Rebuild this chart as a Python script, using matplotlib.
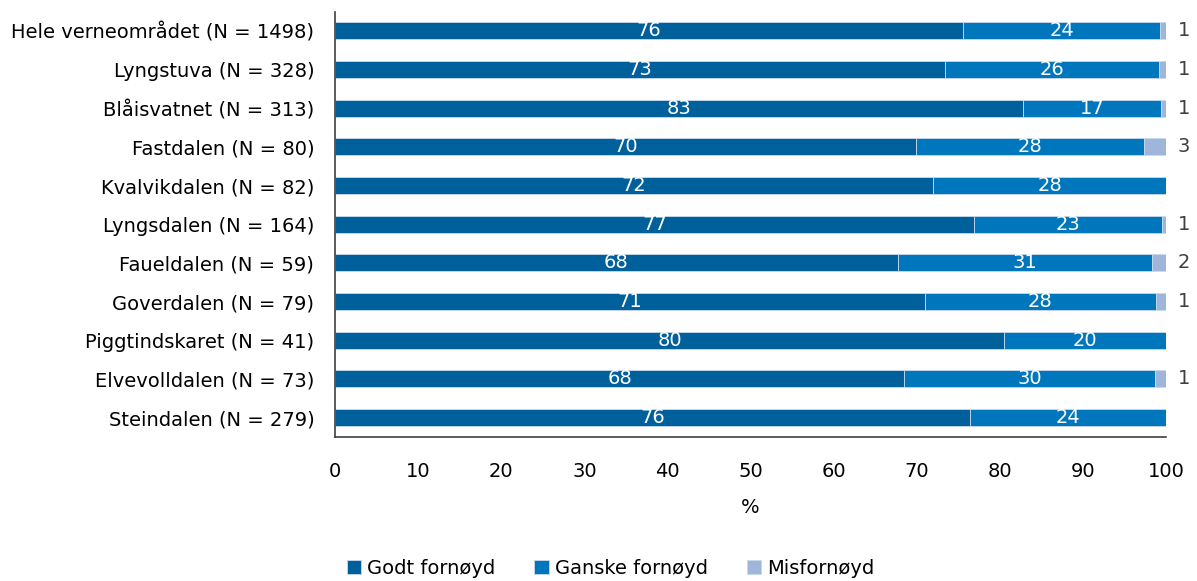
import matplotlib as mpl
import matplotlib.pyplot as plt
import numpy as np

params = {'font.family': ['DejaVu Sans'],
          'font.size': 14}
mpl.rcParams.update(params)

areas = ['Hele verneområdet (N = 1498)', 'Lyngstuva (N = 328)', 'Blåisvatnet (N = 313)',
         'Fastdalen (N = 80)', 'Kvalvikdalen (N = 82)', 'Lyngsdalen (N = 164)',
         'Faueldalen (N = 59)', 'Goverdalen (N = 79)', 'Piggtindskaret (N = 41)',
         'Elvevolldalen (N = 73)', 'Steindalen (N = 279)']
godt = [75.6, 73.4, 82.8, 69.9, 72.0, 76.9, 67.7, 71.0, 80.5, 68.5, 76.4]
ganske = [23.7, 25.8, 16.6, 27.5, 28.0, 22.6, 30.6, 27.8, 19.5, 30.2, 23.6]
misfornoyd = [0.7, 0.8, 0.6, 2.6, 0.0, 0.5, 1.7, 1.2, 0.0, 1.3, 0.0]

series = ['Godt fornøyd', 'Ganske fornøyd', 'Misfornøyd']
colors = ['#00609C', '#0077BD', '#A0B5DA']

fig = plt.figure(figsize=(11.97, 5.81), dpi=100)
ax = fig.add_axes([0.28, 0.248, 0.694, 0.732])

y = np.arange(len(areas))
left = np.zeros(len(areas))
for vals, name, col in zip([godt, ganske, misfornoyd], series, colors):
    vals = np.array(vals)
    ax.barh(y, vals, left=left, height=0.44, color=col, label=name,
            edgecolor='#C9D9EC', linewidth=0.6)
    for i, v in enumerate(vals):
        if v <= 0:
            continue
        if name == 'Misfornøyd':
            ax.annotate('{:.0f}'.format(max(v, 1)), xy=(left[i] + v, y[i]), xytext=(13, 0),
                        textcoords='offset points', ha='center', va='center',
                        color='#404040')
        else:
            ax.text(left[i] + v / 2, y[i], '{:.0f}'.format(v), ha='center', va='center',
                    color='white')
    left = left + vals

ax.set_xlim(0, 100)
ax.set_ylim(len(areas) - 0.5, -0.5)
ax.set_yticks(y)
ax.set_yticklabels(areas)
ax.set_xticks(np.arange(0, 101, 10))
ax.tick_params(axis='both', length=0, labelcolor='black')
ax.tick_params(axis='y', pad=15)
ax.tick_params(axis='x', pad=18)
ax.set_xlabel('%', labelpad=12)

for side in ['top', 'right']:
    ax.spines[side].set_visible(False)
for side in ['left', 'bottom']:
    ax.spines[side].set_color('#404040')
    ax.spines[side].set_linewidth(1.2)

fig.legend(loc='lower center', bbox_to_anchor=(0.51, -0.025), ncol=3, frameon=False,
           handlelength=0.75, handleheight=0.75, handletextpad=0.3, columnspacing=2.0)

fig.savefig('out.png', dpi=100)
